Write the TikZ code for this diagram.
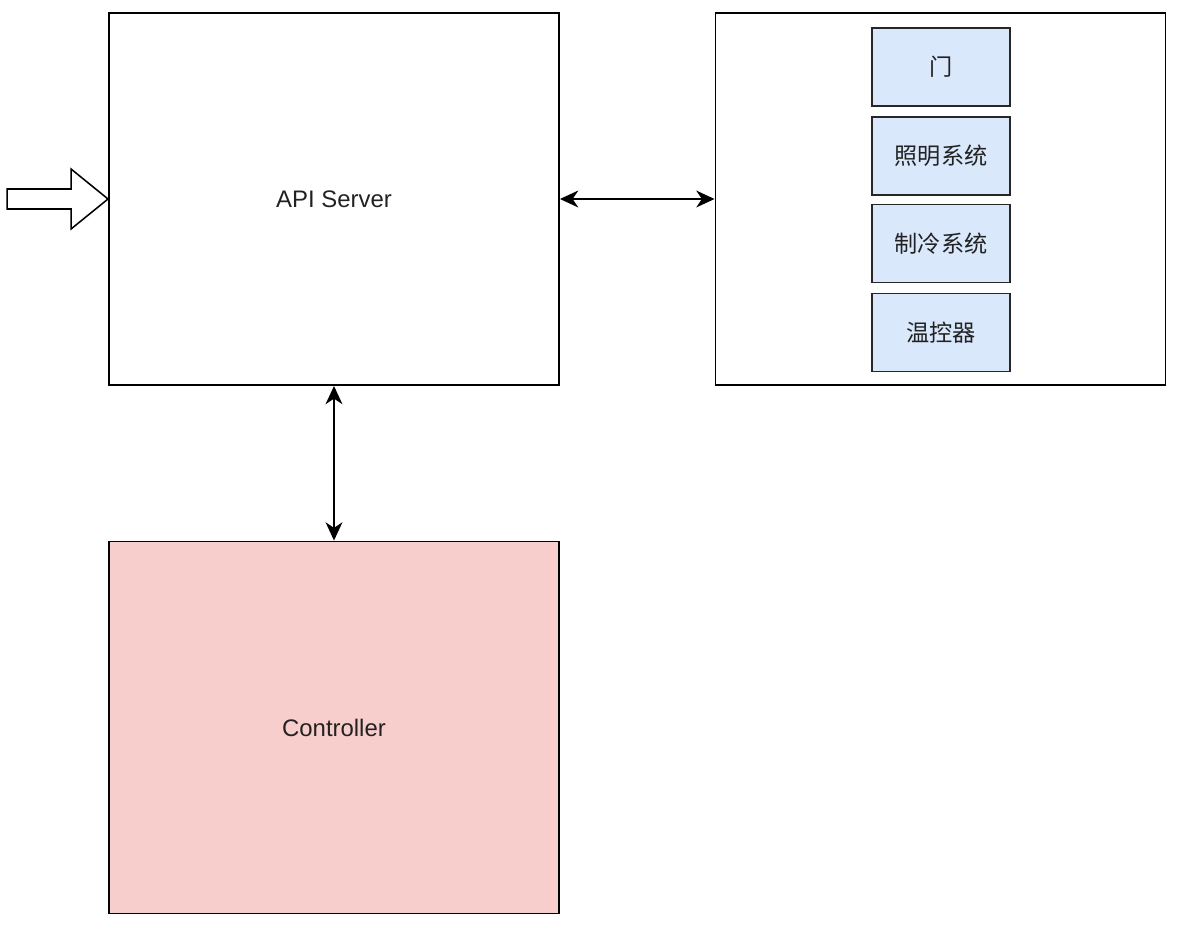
\documentclass[tikz,border=0pt]{standalone}
\usepackage{fontspec}
\setmainfont{Liberation Sans}
\newfontfamily\cjk{Noto Sans CJK SC}
\usetikzlibrary{arrows.meta,positioning}
\definecolor{devblue}{HTML}{DAE8FC}
\definecolor{ctrlred}{HTML}{F8CECC}
\definecolor{labelgray}{HTML}{222222}

\begin{document}
\begin{tikzpicture}[
    x=0.025cm, y=-0.025cm,
    % --- Styles ---
    big box/.style={draw=black, line width=1.3pt, minimum width=11.25cm,
        minimum height=9.3cm, inner sep=0pt, text=labelgray,
        font=\fontsize{17pt}{20pt}\selectfont},
    device box/.style={draw=black!85, line width=1.1pt, fill=devblue,
        minimum width=3.45cm, minimum height=1.95cm, inner sep=0pt,
        text=labelgray, font=\cjk\fontsize{16.5pt}{20pt}\selectfont},
    % Controller in light red
    ctrl fill/.style={fill=ctrlred},
    link arrow/.style={draw=black, line width=1.1pt,
        {Stealth[length=13pt, width=12pt, inset=4pt]}-{Stealth[length=13pt, width=12pt, inset=4pt]}},
    input arrow/.style={draw=black, line width=1.1pt, fill=white, line join=miter}
]

%================CONFIGURATION================
\def\devX{941}
%=============================================

\useasboundingbox (0,0) rectangle (1184,926);

% --- Main boxes ---
\node[big box] (api) at (334,199) {API Server};
\node[big box] (devices) at (940.5,199) {};
\node[big box, ctrl fill] (ctrl) at (334,727.5) {Controller};

% --- Devices inside the right box ---
\node[device box] (door)  at (\devX,67)    {门};
\node[device box] (light) at (\devX,156)   {照明系统};
\node[device box] (cool)  at (\devX,243.5) {制冷系统};
\node[device box] (therm) at (\devX,332.5) {温控器};

% --- Connectors ---
\draw[link arrow] (api.east) -- (devices.west);
\draw[link arrow] (api.south) -- (ctrl.north);

% --- Incoming block arrow ---
\coordinate (tip) at (api.west);
\draw[input arrow] (tip) -- ++(-37,-30) -- ++(0,20) -- ++(-64,0)
    -- ++(0,20) -- ++(64,0) -- ++(0,20) -- cycle;

\end{tikzpicture}
\end{document}
